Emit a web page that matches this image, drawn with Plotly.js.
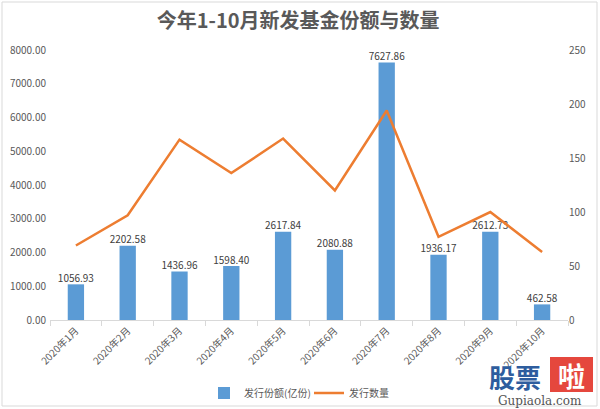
<!DOCTYPE html>
<html>
<head>
<meta charset="utf-8">
<script src="https://cdn.plot.ly/plotly-3.0.1.min.js"></script>
<style>html,body{margin:0;padding:0;background:#fff;}#chart{width:600px;height:409px;}</style>
</head>
<body>
<div id="chart"></div>
<script>
const categories = ["2020年1月","2020年2月","2020年3月","2020年4月","2020年5月","2020年6月","2020年7月","2020年8月","2020年9月","2020年10月"];
const shareValues = [1056.93, 2202.58, 1436.96, 1598.40, 2617.84, 2080.88, 7627.86, 1936.17, 2612.73, 462.58];
const countValues = [69, 97, 167, 136, 168, 120, 194, 77, 100, 63];
const shareName = "发行份额(亿份)";
const countName = "发行数量";
const titleText = "今年1-10月新发基金份额与数量";

const FONT = "'Noto Sans CJK SC', 'Noto Sans', sans-serif";
const L = 50, R = 568, T = 50, B = 320;
const px = x => (x - L) / (R - L);
const py = y => (B - y) / (B - T);

const traces = [
  {
    type: "bar", name: shareName, x: categories, y: shareValues,
    marker: {color: "#5b9bd5"}, yaxis: "y"
  },
  {
    type: "scatter", mode: "lines", name: countName, x: categories, y: countValues,
    line: {color: "#ed7d31", width: 2.5}, yaxis: "y2"
  },
  {
    type: "scatter", mode: "text", x: categories, y: shareValues, showlegend: false,
    text: shareValues.map(v => v.toFixed(2)), textposition: "top center",
    textfont: {size: 10, color: "#404040", family: FONT}, cliponaxis: false, yaxis: "y"
  }
];

const layout = {
  width: 600, height: 409,
  margin: {l: L, r: 600 - R, t: T, b: 409 - B, autoexpand: false},
  paper_bgcolor: "#fff", plot_bgcolor: "#fff",
  font: {family: FONT, color: "#595959", size: 10},
  title: {text: "<b>" + titleText + "</b>", x: 0.497, xanchor: "center", y: 0.948, yanchor: "middle",
          font: {size: 20, color: "#595959", family: FONT}},
  bargap: 0.685,
  showlegend: true,
  legend: {orientation: "h", x: px(309), xanchor: "center", y: py(393), yanchor: "middle",
           font: {size: 10, color: "#595959"}, itemwidth: 30, traceorder: "normal",
           entrywidth: 60, entrywidthmode: "pixels",
           tracegroupgap: 0, bgcolor: "rgba(0,0,0,0)"},
  xaxis: {
    type: "category", tickangle: -45, showline: true, linecolor: "#d9d9d9", linewidth: 1,
    ticks: "outside", tickson: "boundaries", ticklen: 5, tickcolor: "#d9d9d9",
    showgrid: false, zeroline: false, tickfont: {size: 10, color: "#595959"}
  },
  yaxis: {
    range: [0, 8000], dtick: 1000, tickformat: ".2f", showgrid: false, zeroline: false,
    showline: false, tickfont: {size: 10, color: "#595959"}, ticklabelstandoff: 3
  },
  yaxis2: {
    range: [0, 250], dtick: 50, overlaying: "y", side: "right", showgrid: false,
    zeroline: false, showline: false, tickfont: {size: 10, color: "#595959"}
  },
  shapes: [
    {type: "rect", xref: "paper", yref: "paper", x0: px(2), x1: px(597), y0: py(406), y1: py(2),
     line: {color: "#d9d9d9", width: 1}, fillcolor: "rgba(0,0,0,0)", layer: "below"},
    {type: "rect", xref: "paper", yref: "paper", x0: px(550), x1: px(593), y0: py(392), y1: py(357),
     line: {width: 0}, fillcolor: "#e5473d", layer: "above"}
  ],
  annotations: [
    {text: "<b>股票</b>", xref: "paper", yref: "paper", x: px(515), y: py(376), xanchor: "center", yanchor: "middle",
     showarrow: false, font: {size: 26, color: "#2e5d9e", family: FONT}},
    {text: "<b>啦</b>", xref: "paper", yref: "paper", x: px(571), y: py(375), xanchor: "center", yanchor: "middle",
     showarrow: false, font: {size: 27, color: "#ffffff", family: FONT}},
    {text: "Gupiaola.com", xref: "paper", yref: "paper", x: px(540), y: py(401), xanchor: "center", yanchor: "middle",
     showarrow: false, font: {size: 12, color: "#555555", family: "'DejaVu Serif', 'Liberation Serif', serif"}}
  ]
};

Plotly.newPlot("chart", traces, layout, {displayModeBar: false, staticPlot: true});
</script>
</body>
</html>
